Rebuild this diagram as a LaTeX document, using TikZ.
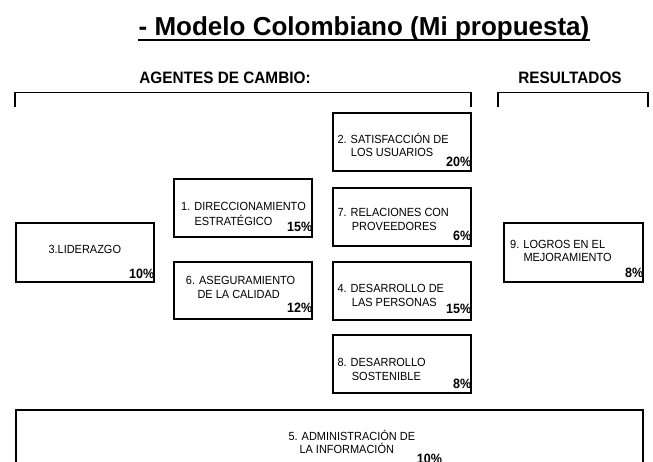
\documentclass[tikz,border=0pt]{standalone}
\usepackage{fontspec}
\setmainfont{Liberation Sans}
\newfontfamily\condfont[FakeStretch=0.93]{Liberation Sans}
\begin{document}
\begin{tikzpicture}[x=1pt,y=-1pt,
  box/.style={draw=black, line width=1.4pt, fill=white, inner sep=0pt},
  lbl/.style={anchor=base west, inner sep=0pt, font=\condfont\fontsize{11.8}{13}\selectfont},
  pct/.style={anchor=base east, inner sep=0pt, font=\condfont\fontsize{13.5}{15}\selectfont\bfseries},
  head/.style={anchor=base, inner sep=0pt, font=\condfont\fontsize{16.5}{18}\selectfont\bfseries},
  bracket/.style={draw=black, line width=1.4pt}]
\useasboundingbox[fill=white] (0,0) rectangle (653,461);

% title
\node[anchor=base, inner sep=0pt, font=\fontsize{26}{30}\selectfont\bfseries] (title) at (364,35) {- Modelo Colombiano (Mi propuesta)};
\draw[line width=2pt] ([yshift=-5pt]title.base west) -- ([yshift=-5pt]title.base east);

% headings
\node[head] (agentes) at (225,83.5) {AGENTES DE CAMBIO:};
\node[head] (resultados) at (570,83.5) {RESULTADOS};

% brackets
\draw[bracket] (15,107) -- (15,92.5) -- (471,92.5) -- (471,107);
\draw[bracket] (498,107) -- (498,92.5) -- (648,92.5) -- (648,107);

% boxes
\node[box, minimum width=138pt, minimum height=58pt] (b2) at (402,142) {};
\node[box, minimum width=138pt, minimum height=58pt] (b7) at (402,217) {};
\node[box, minimum width=138pt, minimum height=58pt] (b1) at (243,208) {};
\node[box, minimum width=138pt, minimum height=59pt] (b3) at (85,252.5) {};
\node[box, minimum width=138pt, minimum height=57pt] (b6) at (243,290.5) {};
\node[box, minimum width=138pt, minimum height=58pt] (b4) at (402,291) {};
\node[box, minimum width=138pt, minimum height=58pt] (b8) at (402,364) {};
\node[box, minimum width=139pt, minimum height=59pt] (b9) at (573.5,252.5) {};
\node[box, minimum width=627pt, minimum height=80pt] (b5) at (329.5,450) {};

% box texts
\node[lbl] (t2a) at (337.3,143.3) {2. SATISFACCIÓN DE};
\node[lbl] (t2b) at (350.7,156.7) {LOS USUARIOS};
\node[pct] (p2) at (471.5,166) {20\%};

\node[lbl] (t7a) at (337.3,216.7) {7. RELACIONES CON};
\node[lbl] (t7b) at (351.7,230) {PROVEEDORES};
\node[pct] (p7) at (471.5,240) {6\%};

\node[lbl] (t1a) at (181,210) {1. DIRECCIONAMIENTO};
\node[lbl] (t1b) at (194.3,225.7) {ESTRATÉGICO};
\node[pct] (p1) at (312.5,231.7) {15\%};

\node[lbl] (t3a) at (48.3,253.3) {3.LIDERAZGO};
\node[pct] (p3) at (154.5,278.3) {10\%};

\node[lbl] (t6a) at (185.7,284) {6. ASEGURAMIENTO};
\node[lbl] (t6b) at (197.3,298.3) {DE LA CALIDAD};
\node[pct] (p6) at (312.5,312.3) {12\%};

\node[lbl] (t4a) at (337.3,292.7) {4. DESARROLLO DE};
\node[lbl] (t4b) at (351.7,306) {LAS PERSONAS};
\node[pct] (p4) at (471.5,313.3) {15\%};

\node[lbl] (t8a) at (337.3,366.7) {8. DESARROLLO};
\node[lbl] (t8b) at (351.7,380) {SOSTENIBLE};
\node[pct] (p8) at (471.5,388.3) {8\%};

\node[lbl] (t9a) at (510,248.3) {9. LOGROS EN EL};
\node[lbl] (t9b) at (523.3,261.7) {MEJORAMIENTO};
\node[pct] (p9) at (643.5,277.3) {8\%};

\node[lbl] (t5a) at (288.3,440) {5. ADMINISTRACIÓN DE};
\node[lbl] (t5b) at (299.3,453.3) {LA INFORMACIÓN};
\node[pct, anchor=base west] (p5) at (416.7,463) {10\%};
\end{tikzpicture}
\end{document}
